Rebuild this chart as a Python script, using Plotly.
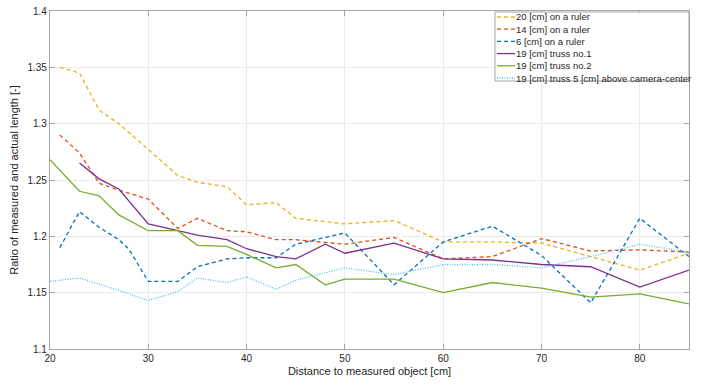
import plotly.graph_objects as go

names = ["20 [cm] on a ruler", "14 [cm] on a ruler", "6 [cm] on a ruler",
         "19 [cm] truss no.1", "19 [cm] truss no.2",
         "19 [cm] truss 5 [cm] above camera-center"]

x_yellow = [21, 23, 25, 27, 30, 33, 35, 38, 40, 43, 45, 50, 55, 60, 65, 70, 75, 80, 85]
y_yellow = [1.350, 1.345, 1.312, 1.300, 1.277, 1.254, 1.248, 1.244, 1.228, 1.230, 1.216,
            1.211, 1.214, 1.195, 1.195, 1.194, 1.182, 1.170, 1.185]

x_orange = [21, 23, 25, 27, 30, 33, 35, 38, 40, 43, 45, 50, 55, 60, 65, 70, 75, 80, 85]
y_orange = [1.290, 1.274, 1.247, 1.241, 1.233, 1.207, 1.216, 1.205, 1.204, 1.197, 1.197,
            1.193, 1.199, 1.180, 1.182, 1.198, 1.187, 1.188, 1.186]

x_blue = [21, 23, 25, 27, 28, 30, 33, 35, 38, 40, 43, 45, 48, 50, 55, 60, 65, 70, 75, 80, 85]
y_blue = [1.190, 1.222, 1.208, 1.197, 1.189, 1.160, 1.160, 1.173, 1.180, 1.181, 1.181,
          1.193, 1.199, 1.203, 1.157, 1.195, 1.209, 1.183, 1.141, 1.216, 1.182]

x_purple = [23, 25, 27, 30, 33, 35, 38, 40, 43, 45, 48, 50, 55, 60, 65, 70, 75, 80, 85]
y_purple = [1.265, 1.251, 1.242, 1.211, 1.205, 1.201, 1.197, 1.189, 1.182, 1.180, 1.193,
            1.185, 1.194, 1.180, 1.179, 1.175, 1.173, 1.155, 1.170]

x_green = [20, 23, 25, 27, 30, 33, 35, 38, 40, 43, 45, 48, 50, 55, 60, 65, 70, 75, 80, 85]
y_green = [1.268, 1.240, 1.236, 1.219, 1.205, 1.205, 1.192, 1.191, 1.184, 1.172, 1.175,
           1.157, 1.162, 1.162, 1.150, 1.159, 1.154, 1.146, 1.149, 1.140]

x_light = [20, 23, 27, 30, 33, 35, 38, 40, 43, 45, 50, 55, 60, 65, 70, 75, 80, 85]
y_light = [1.160, 1.163, 1.152, 1.143, 1.151, 1.163, 1.159, 1.164, 1.153, 1.161, 1.172,
           1.166, 1.175, 1.175, 1.172, 1.182, 1.193, 1.186]

xs = [x_yellow, x_orange, x_blue, x_purple, x_green, x_light]
ys = [y_yellow, y_orange, y_blue, y_purple, y_green, y_light]
colors = ["#EDB120", "#D95319", "#0072BD", "#7E2F8E", "#77AC30", "#4DBEEE"]
dashes = ["4px,3px", "4px,3px", "4px,3px", "solid", "solid", "1px,1.5px"]

FONT = "Liberation Sans, Arial, Helvetica"

fig = go.Figure()
for n, x, y, c, d in zip(names, xs, ys, colors, dashes):
    fig.add_trace(go.Scatter(x=x, y=y, mode="lines", name=n, showlegend=False,
                             line=dict(color=c, width=1.3, dash=d)))

axis_common = dict(showline=True, linecolor="#A5A5A5", linewidth=1.3, mirror="ticks",
                   ticks="inside", ticklen=5, tickcolor="#A5A5A5", tickwidth=1,
                   showgrid=True, gridcolor="#EBEBEB", gridwidth=1, zeroline=False,
                   automargin=False, ticklabeloverflow="allow",
                   tickfont=dict(family=FONT, size=10, color="#262626"),
                   title_font=dict(family=FONT, size=11, color="#262626"))

fig.update_xaxes(range=[20, 85], dtick=10, tick0=20,
                 title_text="Distance to measured object [cm]", title_standoff=4, **axis_common)
fig.update_yaxes(range=[1.1, 1.4], dtick=0.05, tick0=1.1,
                 title_text="Ratio of measured and actual length [-]", title_standoff=6, **axis_common)

# Compact MATLAB-style legend in paper coordinates
ML, MR, MT, MB = 50, 20, 11, 39
plot_h = 388 - MT - MB
plot_w = 709 - ML - MR
fig.add_shape(type="rect", xref="paper", yref="paper",
              x0=(495 - ML) / plot_w, x1=(689 - ML) / plot_w,
              y0=1 - (81 - MT) / plot_h, y1=1 - (12 - MT) / plot_h,
              line=dict(color="#A5A5A5", width=1), fillcolor="white", layer="above")
for i, (n, c, d) in enumerate(zip(names, colors, dashes)):
    yc_px = 17 - MT + i * 12.2
    yp = 1 - yc_px / plot_h
    fig.add_shape(type="line", xref="paper", yref="paper",
                  x0=(497 - ML) / plot_w, x1=(515 - ML) / plot_w, y0=yp, y1=yp,
                  line=dict(color=c, width=1.3, dash=d), layer="above")
    fig.add_annotation(text=n, xref="paper", yref="paper", x=(514 - ML) / plot_w, y=yp,
                       xanchor="left", yanchor="middle", showarrow=False,
                       font=dict(family=FONT, size=9.5, color="#262626"))

fig.update_layout(width=709, height=388,
                  margin=dict(l=ML, r=MR, t=MT, b=MB, pad=0),
                  paper_bgcolor="white", plot_bgcolor="white", showlegend=False,
                  hovermode=False)

fig.write_html("out.html", config={"displayModeBar": False},
               post_script="document.body.style.margin='0';document.body.style.padding='0';")
